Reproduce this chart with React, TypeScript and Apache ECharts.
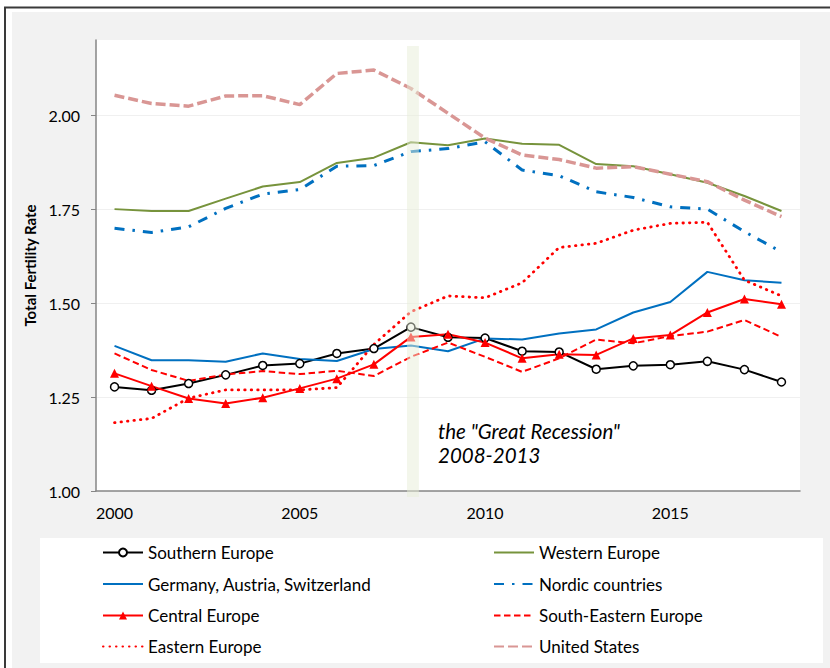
import React, { useEffect, useRef } from 'react';
import * as echarts from 'echarts';

const years = ['2000', '2001', '2002', '2003', '2004', '2005', '2006', '2007', '2008', '2009', '2010', '2011', '2012', '2013', '2014', '2015', '2016', '2017', '2018'];

const southernEurope = [1.277, 1.268, 1.286, 1.309, 1.334, 1.339, 1.366, 1.379, 1.436, 1.409, 1.407, 1.372, 1.370, 1.324, 1.333, 1.336, 1.345, 1.323, 1.290];
const westernEurope = [1.750, 1.745, 1.745, 1.778, 1.810, 1.822, 1.873, 1.887, 1.928, 1.920, 1.938, 1.924, 1.921, 1.870, 1.864, 1.843, 1.820, 1.785, 1.745];
const germanyAustriaSwitzerland = [1.386, 1.348, 1.348, 1.344, 1.366, 1.351, 1.346, 1.378, 1.387, 1.372, 1.406, 1.403, 1.419, 1.430, 1.475, 1.503, 1.583, 1.561, 1.554];
const nordicCountries = [1.699, 1.688, 1.703, 1.752, 1.790, 1.802, 1.864, 1.866, 1.903, 1.911, 1.929, 1.854, 1.839, 1.796, 1.781, 1.756, 1.750, 1.690, 1.636];
const centralEurope = [1.313, 1.279, 1.246, 1.233, 1.248, 1.273, 1.299, 1.337, 1.410, 1.417, 1.395, 1.353, 1.364, 1.362, 1.406, 1.415, 1.475, 1.511, 1.497];
const southEasternEurope = [1.366, 1.322, 1.293, 1.310, 1.319, 1.311, 1.320, 1.306, 1.357, 1.395, 1.357, 1.317, 1.353, 1.403, 1.393, 1.412, 1.424, 1.455, 1.410];
const easternEurope = [1.182, 1.193, 1.247, 1.269, 1.269, 1.269, 1.275, 1.390, 1.477, 1.519, 1.514, 1.554, 1.648, 1.659, 1.694, 1.712, 1.715, 1.561, 1.519];
const unitedStates = [2.053, 2.031, 2.024, 2.051, 2.052, 2.028, 2.111, 2.120, 2.071, 2.005, 1.939, 1.894, 1.882, 1.859, 1.863, 1.843, 1.823, 1.774, 1.730];

const yTicks = [1, 1.25, 1.5, 1.75, 2];
const recessionBand = [['2008', 0.984, 2.184]];
const annotationLines = ['the "Great Recession"', '2008-2013'];
const yAxisTitle = 'Total Fertility Rate';

// legend layout: two columns, four rows (row-major order of the original legend)
const legendLeft = ['Southern Europe', 'Germany, Austria, Switzerland', 'Central Europe', 'Eastern Europe'];
const legendRight = ['Western Europe', 'Nordic countries', 'South-Eastern Europe', 'United States'];
const withMarkers = ['Southern Europe', 'Central Europe'];

const FONT = 'Lato, "Noto Sans", sans-serif';

export default function App() {
  const ref = useRef<HTMLDivElement>(null);

  useEffect(() => {
    if (!ref.current) return;
    const chart = echarts.init(ref.current, undefined, { renderer: 'svg' });

    const legendText = { fontFamily: FONT, fontSize: 17, color: '#000', lineHeight: 16 };
    const rowY = [552, 583.5, 615, 646];
    const colX = [102, 493];

    const legends: any[] = [];
    [legendLeft, legendRight].forEach((col, ci) => {
      col.forEach((name, ri) => {
        const item: any = { name };
        if (withMarkers.indexOf(name) < 0) {
          item.itemStyle = { color: 'rgba(0,0,0,0)', borderColor: 'rgba(0,0,0,0)', borderWidth: 0, opacity: 0 };
        }
        legends.push({
          left: colX[ci], top: rowY[ri] - 8, padding: 0, orient: 'horizontal',
          itemWidth: 40, itemHeight: 10, selectedMode: false,
          data: [item], textStyle: legendText
        });
      });
    });

    const option: any = {
      animation: false,
      backgroundColor: '#ffffff',
      textStyle: { fontFamily: FONT },
      graphic: {
        elements: [
          { type: 'rect', z: -20, silent: true, shape: { x: 5, y: 7.5, width: 900, height: 700 }, style: { fill: '#ffffff', stroke: '#3a3a3a', lineWidth: 2 } },
          { type: 'rect', z: -19, silent: true, shape: { x: 12, y: 12, width: 900, height: 700 }, style: { fill: '#f2f2f2' } },
          { type: 'rect', z: -18, silent: true, shape: { x: 40, y: 538, width: 783, height: 125 }, style: { fill: '#ffffff' } },
          {
            type: 'text', z: 5, silent: true, x: 438, y: 431,
            style: { text: annotationLines[0], font: 'italic 20.5px ' + FONT, fill: '#000', verticalAlign: 'middle' }
          },
          {
            type: 'text', z: 5, silent: true, x: 438, y: 454.5,
            style: { text: annotationLines[1], font: 'italic 20.5px ' + FONT, fill: '#000', verticalAlign: 'middle' }
          }
        ]
      },
      grid: { left: 96, top: 40, width: 704, height: 451, show: true, backgroundColor: '#ffffff', borderWidth: 0 },
      legend: legends,
      xAxis: {
        type: 'category', data: years, boundaryGap: true,
        axisLine: { show: true, lineStyle: { color: '#868686', width: 1.5 } },
        axisTick: { show: false },
        axisLabel: { interval: 4, margin: 13, fontSize: 16, color: '#000', fontFamily: FONT },
        splitLine: { show: false }
      },
      yAxis: {
        type: 'value', min: 1, max: 2.2, interval: 0.25,
        name: yAxisTitle, nameLocation: 'middle', nameGap: 56,
        nameTextStyle: { fontFamily: FONT, fontWeight: 'bold', fontSize: 15, color: '#000' },
        axisLine: { show: true, lineStyle: { color: '#868686', width: 1.5 } },
        axisTick: { show: true, length: 5, customValues: yTicks, lineStyle: { color: '#868686' } },
        axisLabel: { customValues: yTicks, formatter: (v: number) => v.toFixed(2), margin: 16, fontSize: 16, color: '#000', fontFamily: FONT },
        splitLine: { show: true, lineStyle: { color: '#f0f0f0', width: 1 } }
      },
      series: [
        {
          name: 'Southern Europe', type: 'line', data: southernEurope, z: 3,
          symbol: 'circle', symbolSize: 8, showSymbol: true,
          lineStyle: { color: '#000', width: 2 },
          itemStyle: { color: '#ffffff', borderColor: '#000', borderWidth: 1.5 }
        },
        {
          name: 'Western Europe', type: 'line', data: westernEurope, symbol: 'none',
          lineStyle: { color: '#77933c', width: 2 }, itemStyle: { color: '#77933c' }
        },
        {
          name: 'Germany, Austria, Switzerland', type: 'line', data: germanyAustriaSwitzerland, symbol: 'none',
          lineStyle: { color: '#0070c0', width: 2 }, itemStyle: { color: '#0070c0' }
        },
        {
          name: 'Nordic countries', type: 'line', data: nordicCountries, symbol: 'none',
          lineStyle: { color: '#0070c0', width: 3, type: [10, 8, 2.5, 8] }, itemStyle: { color: '#0070c0' }
        },
        {
          name: 'Central Europe', type: 'line', data: centralEurope, z: 3,
          symbol: 'triangle', symbolSize: 9, showSymbol: true,
          lineStyle: { color: '#ff0000', width: 2 }, itemStyle: { color: '#ff0000' }
        },
        {
          name: 'South-Eastern Europe', type: 'line', data: southEasternEurope, symbol: 'none',
          lineStyle: { color: '#ff0000', width: 2, type: [6.5, 3.5] }, itemStyle: { color: '#ff0000' }
        },
        {
          name: 'Eastern Europe', type: 'line', data: easternEurope, symbol: 'none',
          lineStyle: { color: '#ff0000', width: 2.8, type: [0.5, 6], cap: 'round' }, itemStyle: { color: '#ff0000' }
        },
        {
          name: 'United States', type: 'line', data: unitedStates, symbol: 'none',
          lineStyle: { color: '#d99694', width: 3.5, type: [10, 4] }, itemStyle: { color: '#d99694' }
        },
        {
          name: 'recession', type: 'custom', z: 10, silent: true, clip: false,
          data: recessionBand,
          encode: { x: 0, y: [1, 2] },
          renderItem: (params: any, api: any) => {
            const top = api.coord([api.value(0), api.value(2)]);
            const bottom = api.coord([api.value(0), api.value(1)]);
            const w = api.size([1, 0])[0] * 0.32;
            return {
              type: 'rect',
              shape: { x: top[0] - w / 2 + 2, y: top[1], width: w, height: bottom[1] - top[1] },
              style: { fill: 'rgba(232,238,215,0.5)' }
            };
          }
        }
      ]
    };

    chart.setOption(option);
    return () => chart.dispose();
  }, []);

  return <div ref={ref} style={{ position: 'fixed', left: 0, top: 0, width: 830, height: 668 }} />;
}
